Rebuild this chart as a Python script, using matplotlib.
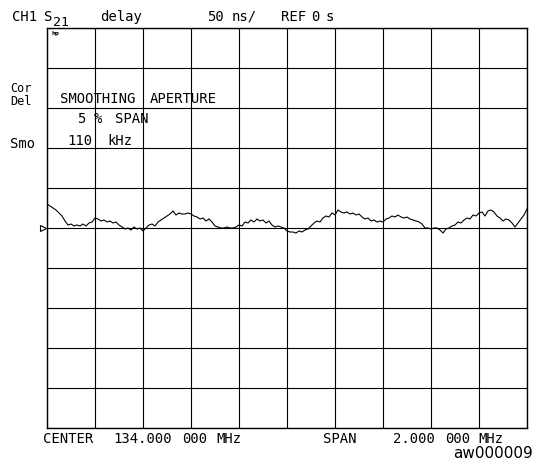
import numpy as np
import matplotlib
matplotlib.use("Agg")
import matplotlib.pyplot as plt
import matplotlib.transforms as mtransforms

# ---- data ----
center_mhz = 134.0
span_mhz = 2.0
scale_ns_per_div = 50.0
ref_ns = 0.0
delay_ns = [
    30, 27.5, 25, 22.5, 18.75, 15, 8.75, 3.75, 5, 2.5,
    3.75, 2.5, 5, 2.5, 6.25, 7.5, 12.5, 11.25, 8.75, 10,
    7.5, 8.75, 6.25, 7.5, 3.75, 1.25, -1.25, 0, -2.5, 1.25,
    -1.25, 0, -3.75, 0, 3.75, 5, 2.5, 7.5, 10, 12.5,
    15, 17.5, 21.25, 16.25, 18.75, 17.5, 17.5, 18.75, 17.5, 15,
    13.75, 11.25, 12.5, 8.75, 11.25, 7.5, 2.5, 1.25, 0, 0,
    1.25, 0, 0, 1.25, 3.75, 2.5, 7.5, 6.25, 10, 7.5,
    11.25, 8.75, 10, 6.25, 8.75, 3.75, 1.25, 2.5, 1.25, 0,
    -3.75, -5, -5, -6.25, -3.75, -5, -2.5, -1.25, 2.5, 6.25,
    8.75, 7.5, 12.5, 15, 13.75, 18.75, 16.25, 22.5, 20, 18.75,
    20, 17.5, 18.75, 16.25, 17.5, 13.75, 11.25, 12.5, 8.75, 10,
    7.5, 8.75, 7.5, 11.25, 12.5, 15, 13.75, 16.25, 13.75, 12.5,
    13.75, 11.25, 10, 8.75, 7.5, 5, 0, 0, -1.25, 0,
    0, -2.5, -6.25, -1.25, 0, 2.5, 3.75, 7.5, 6.25, 10,
    12.5, 11.25, 16.25, 15, 18.75, 20, 15, 21.25, 22.5, 20,
    15, 12.5, 8.75, 11.25, 10, 6.25, 1.25, 6.25, 11.25, 16.25,
    23.75,
]
freq_mhz = np.linspace(center_mhz - span_mhz / 2, center_mhz + span_mhz / 2, len(delay_ns))

W, H = 545, 470
fig = plt.figure(figsize=(W / 100, H / 100), dpi=100)
fig.patch.set_facecolor("white")

ax = fig.add_axes([47 / W, 1 - 428 / H, 480 / W, 400 / H])
x0, x1 = center_mhz - span_mhz / 2, center_mhz + span_mhz / 2
y0, y1 = ref_ns - 5 * scale_ns_per_div, ref_ns + 5 * scale_ns_per_div
ax.set_xlim(x0, x1)
ax.set_ylim(y0, y1)
ax.set_xticks(np.linspace(x0, x1, 11))
ax.set_yticks(np.linspace(y0, y1, 11))
ax.tick_params(length=0, labelbottom=False, labelleft=False)
ax.grid(True, color="black", linewidth=0.8)
for s in ax.spines.values():
    s.set_color("black")
    s.set_linewidth(1.0)

ax.plot(freq_mhz, delay_ns, color="black", linewidth=0.8)

# reference-position marker at left edge
trans = mtransforms.blended_transform_factory(ax.transAxes, ax.transData)
ax.plot([-0.008], [ref_ns], marker=">", markersize=4, markerfacecolor="white",
        markeredgecolor="black", markeredgewidth=0.8, transform=trans, clip_on=False)

mono = "DejaVu Sans Mono"
fs = 10


def t(x, y, s, size=fs, family=mono, **kw):
    fig.text(x / W, 1 - y / H, s, fontsize=size, family=family,
             va="baseline", ha="left", color="black", **kw)


# header
t(12, 21, "CH1")
t(44, 21, "S")
t(53, 26, "21", size=9.5)
t(100, 21, "delay")
t(207, 21, "50")
t(232, 21, "ns/")
t(281, 21, "REF")
t(311, 21, "0")
t(326, 21, "s")

# hp logo
t(51, 35, "hp", size=4, family="DejaVu Sans", fontweight="bold")

# left annotations
t(10, 92, "Cor", size=8.5)
t(10, 105, "Del", size=8.5)
t(10, 148, "Smo")

# in-graticule annotation
t(60, 103, "SMOOTHING")
t(150, 103, "APERTURE")
t(77, 123, "5")
t(94, 123, "%")
t(115, 123, "SPAN")
t(67, 145, "110")
t(107, 145, "kHz")

# footer
t(43, 443, "CENTER")
t(113, 443, "134.000")
t(182, 443, "000")
t(216, 443, "MHz")
t(323, 443, "SPAN")
t(393, 443, "2.000")
t(445, 443, "000")
t(478, 443, "MHz")

t(453, 458, "aw000009", size=11, family="DejaVu Sans")

fig.savefig("out.png", dpi=100)
